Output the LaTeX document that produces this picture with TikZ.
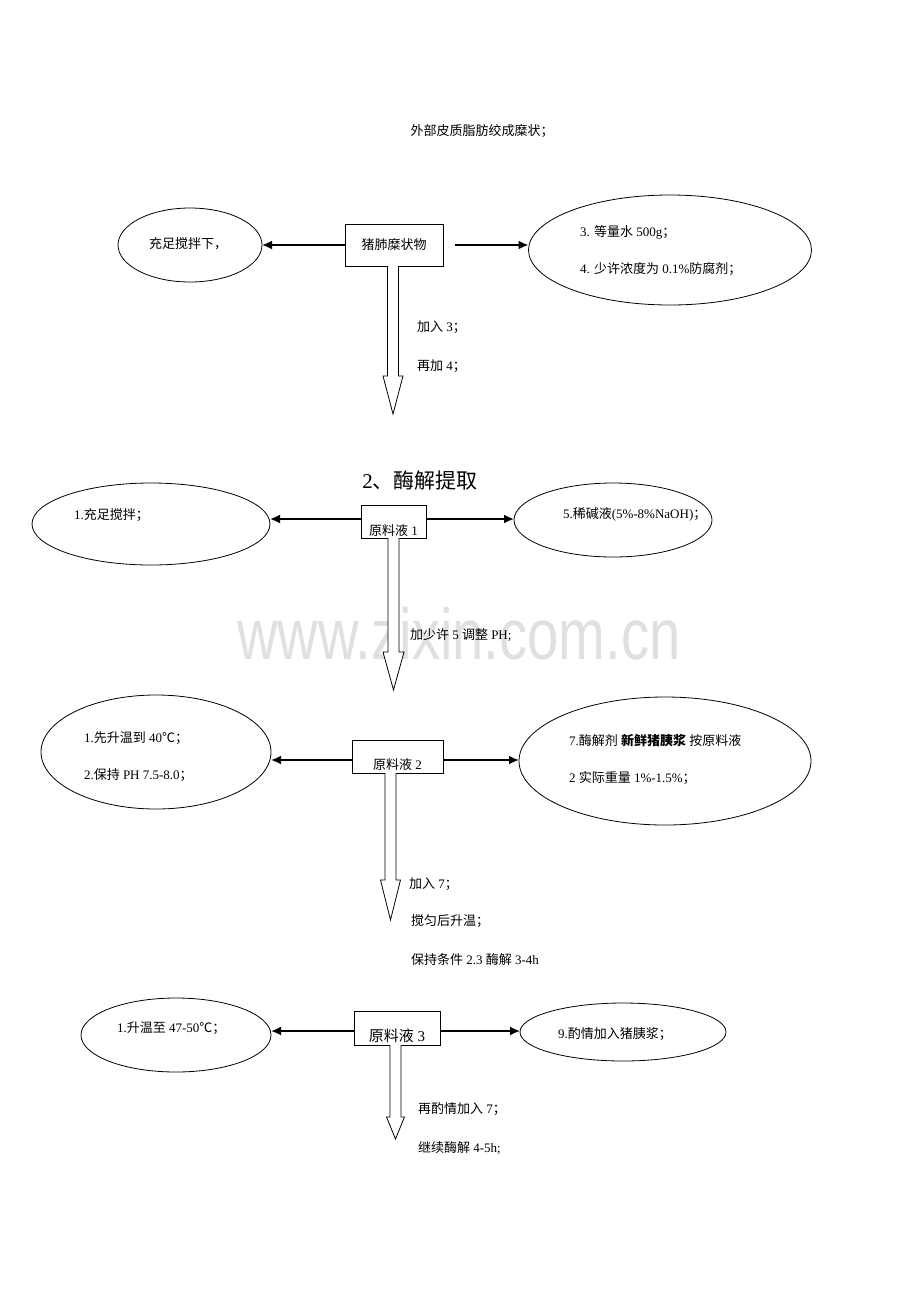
\documentclass[tikz,border=0pt]{standalone}
\usepackage{fontspec}
\setmainfont{Liberation Serif}
\newfontfamily\cjk{Noto Sans CJK SC}
\newfontfamily\wmfont{Liberation Sans}
\usetikzlibrary{shapes.geometric,arrows.meta,calc}
\newcommand\zh[1]{{\cjk #1}}
\newcommand\blockarr[5]{% start, head-start, tip, half shaft, half head
  \draw[barrow] ($(#1)+(-#4,0)$) -- ($(#2)+(-#4,0)$) -- ($(#2)+(-#5,0)$) -- (#3)
    -- ($(#2)+(#5,0)$) -- ($(#2)+(#4,0)$) -- ($(#1)+(#4,0)$);}
\begin{document}
\begin{tikzpicture}[x=1pt,y=-1pt,
  every node/.style={inner sep=0pt, outer sep=0pt},
  txt/.style={anchor=west, font=\fontsize{13}{15}\selectfont},
  ctxt/.style={font=\fontsize{13}{15}\selectfont},
  oval/.style={draw, ellipse, line width=0.8pt},
  boxn/.style={draw, rectangle, line width=0.8pt, fill=white},
  harrow/.style={line width=1.8pt, -{Latex[length=10pt,width=9pt]}},
  barrow/.style={draw, line width=0.8pt, fill=white}]
\useasboundingbox (0,0) rectangle (920,1302);

% watermark
\node[font=\wmfont\fontsize{72}{80}\selectfont, text=black!12, xscale=0.78] (wm) at (459,634) {www.zixin.com.cn};

% ---------------- section 1
\node[ctxt] (t0) at (482,131) {\zh{外部皮质脂肪绞成糜状；}};
\node[boxn, minimum width=98, minimum height=42, ctxt] (b0) at (394,245) {\zh{猪肺糜状物}};
\node[oval, minimum width=144, minimum height=74] (e0l) at (190,245) {};
\node[txt] (e0lt) at (149,244) {\zh{充足搅拌下，}};
\node[oval, minimum width=283, minimum height=110] (e0r) at (670,250) {};
\node[txt] (e0r1) at (580,232) {3. \zh{等量水} 500g\zh{；}};
\node[txt] (e0r2) at (580,269) {4. \zh{少许浓度为} 0.1\%\zh{防腐剂；}};
\draw[harrow] (b0.west) -- (e0l.east);
\draw[harrow] ([xshift=12pt]b0.east) -- (e0r.west |- b0.east);
\coordinate (s0) at (393,266);
\coordinate (h0) at (393,376);
\coordinate (p0) at (393,414);
\blockarr{s0}{h0}{p0}{5.5}{10}
\node[txt] (a0) at (417,327) {\zh{加入} 3\zh{；}};
\node[txt] (a0b) at (417,366) {\zh{再加} 4\zh{；}};

% ---------------- section 2
\node[font=\fontsize{21}{24}\selectfont] (title) at (420,481) {2\zh{、酶解提取}};
\node[oval, minimum width=238, minimum height=82] (e1l) at (151,524) {};
\node[txt] (e1lt) at (74,515) {1.\zh{充足搅拌；}};
\node[oval, minimum width=198, minimum height=74] (e1r) at (613,520) {};
\node[txt] (e1rt) at (563,514) {5.\zh{稀碱液}(5\%-8\%NaOH)\zh{；}};
\node[boxn, minimum width=65, minimum height=33] (b1) at (393.5,521.5) {};
\node[ctxt] (b1t) at (393.5,531) {\zh{原料液} 1};
\draw[harrow] (b1.west |- 0,519) -- (e1l.east |- 0,519);
\draw[harrow] (b1.east |- 0,519) -- (e1r.west |- 0,519);
\coordinate (s1) at (393.5,538);
\coordinate (h1) at (393.5,652);
\coordinate (p1) at (393.5,690);
\blockarr{s1}{h1}{p1}{5.5}{10.5}
\node[txt] (a1) at (410,635) {\zh{加少许} 5 \zh{调整} PH;};

% ---------------- section 3
\node[oval, minimum width=230, minimum height=114] (e2l) at (156,752) {};
\node[txt] (e2l1) at (84,738) {1.\zh{先升温到} 40\zh{℃；}};
\node[txt] (e2l2) at (84,775) {2.\zh{保持} PH 7.5-8.0\zh{；}};
\node[oval, minimum width=292, minimum height=128] (e2r) at (665,761) {};
\node[txt] (e2r1) at (569,741) {7.\zh{酶解剂} {\cjk\bfseries 新鲜猪胰浆} \zh{按原料液}};
\node[txt] (e2r2) at (569,778) {2 \zh{实际重量} 1\%-1.5\%\zh{；}};
\node[boxn, minimum width=91, minimum height=33] (b2) at (397.5,756.5) {};
\node[ctxt] (b2t) at (397.5,765) {\zh{原料液} 2};
\draw[harrow] (b2.west |- 0,760) -- (e2l.east |- 0,760);
\draw[harrow] (b2.east |- 0,760) -- (e2r.west |- 0,760);
\coordinate (s2) at (390.5,773);
\coordinate (h2) at (390.5,880);
\coordinate (p2) at (390.5,920);
\blockarr{s2}{h2}{p2}{5.5}{10}
\node[txt] (a2) at (409,884) {\zh{加入} 7\zh{；}};
\node[txt] (a2b) at (411,921) {\zh{搅匀后升温；}};
\node[txt] (a2c) at (411,960) {\zh{保持条件} 2.3 \zh{酶解} 3-4h};

% ---------------- section 4
\node[oval, minimum width=190, minimum height=74] (e3l) at (176,1035) {};
\node[txt] (e3lt) at (117,1028) {1.\zh{升温至} 47-50\zh{℃；}};
\node[oval, minimum width=206, minimum height=58] (e3r) at (623,1032) {};
\node[txt] (e3rt) at (558,1034) {9.\zh{酌情加入猪胰浆；}};
\node[boxn, minimum width=86, minimum height=34] (b3) at (397,1028) {};
\node[font=\fontsize{15}{17}\selectfont] (b3t) at (397,1036) {\zh{原料液} 3};
\draw[harrow] (b3.west |- 0,1031) -- (e3l.east |- 0,1031);
\draw[harrow] (b3.east |- 0,1031) -- (e3r.west |- 0,1031);
\coordinate (s3) at (395.5,1045);
\coordinate (h3) at (395.5,1117);
\coordinate (p3) at (395.5,1139);
\blockarr{s3}{h3}{p3}{5.5}{9}
\node[txt] (a3) at (418,1109) {\zh{再酌情加入} 7\zh{；}};
\node[txt] (a3b) at (418,1148) {\zh{继续酶解} 4-5h;};
\end{tikzpicture}
\end{document}
